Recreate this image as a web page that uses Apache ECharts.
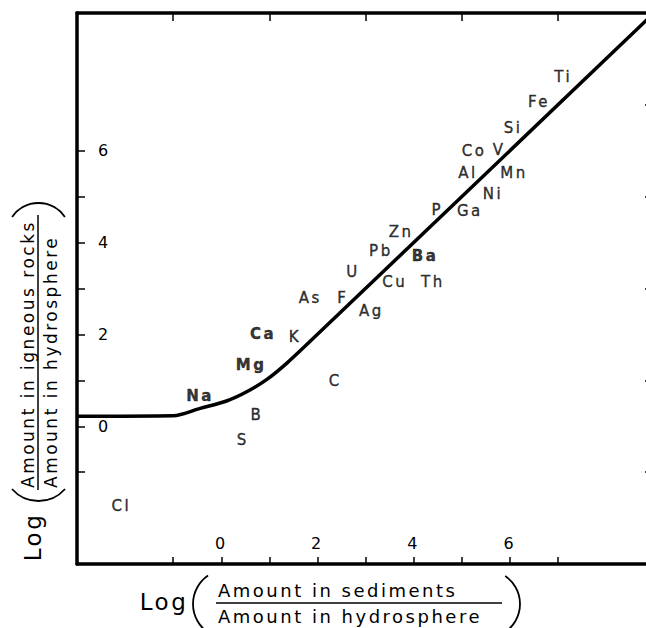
<!DOCTYPE html>
<html>
<head>
<meta charset="utf-8">
<script src="https://cdn.jsdelivr.net/npm/echarts@6/dist/echarts.min.js"></script>
<style>
  html, body { margin: 0; padding: 0; background: #fff; overflow: hidden; }
  #chart { width: 660px; height: 628px; letter-spacing: 2.5px; }
</style>
</head>
<body>
<div id="chart"></div>
<script>
// element symbols and where they sit on the plot (log ratios)
var elements = ['Ti', 'Fe', 'Si', 'Co', 'V', 'Al', 'Mn', 'Ni', 'P', 'Ga', 'Zn', 'Pb', 'Ba', 'U', 'Cu', 'Th',
                'As', 'F', 'Ag', 'Ca', 'K', 'Mg', 'C', 'Na', 'B', 'S', 'Cl'];
var sedimentLog = [7.11, 6.61, 6.07, 5.26, 5.78, 5.13, 6.09, 5.65, 4.49, 5.17, 3.74, 3.32, 4.24, 2.74, 3.61, 4.40,
                   1.85, 2.53, 3.12, 0.87, 1.53, 0.62, 2.37, -0.44, 0.74, 0.45, -2.08];
var igneousLog = [7.61, 7.06, 6.49, 5.99, 6.02, 5.52, 5.52, 5.05, 4.71, 4.68, 4.23, 3.81, 3.71, 3.36, 3.14, 3.14,
                  2.79, 2.79, 2.51, 2.00, 1.94, 1.33, 0.98, 0.66, 0.25, -0.30, -1.74];
var boldOnes = ['Na', 'Mg', 'Ca', 'Ba'];

// the curve
var curveX = [-3, -1, -0.44, 0.11, 0.53, 0.95, 1.36, 1.8, 9];
var curveY = [0.22, 0.23, 0.39, 0.55, 0.75, 1.02, 1.37, 1.8, 9];

// ticks
var bottomTicks = [-1, 0, 1, 2, 3, 4, 5, 6, 7];
var leftTicks = [-1, 0, 1, 2, 3, 4, 5, 6];
var oddTicks = [-1, 1, 3, 5, 7];
var tickLabels = [0, 2, 4, 6];

var FONT = '"DejaVu Sans", sans-serif';
var myChart = echarts.init(document.getElementById('chart'), null, { renderer: 'svg' });

var labelData = elements.map(function (e, i) {
    return {
        name: e,
        value: [sedimentLog[i], igneousLog[i]],
        label: { fontWeight: boldOnes.indexOf(e) >= 0 ? 'bold' : 'normal' }
    };
});
var curveData = curveX.map(function (x, i) { return [x, curveY[i]]; });

function axisBase(pos) {
    return {
        type: 'value', position: pos, min: -3, max: 9, interval: 1,
        axisLine: { show: true, onZero: false, lineStyle: { color: '#000', width: 3.5 } },
        splitLine: { show: false }
    };
}

var xBottom = axisBase('bottom');
xBottom.axisTick = { show: true, inside: true, length: 7, customValues: bottomTicks, lineStyle: { color: '#000', width: 1.5 } };
xBottom.axisLabel = { show: true, inside: true, margin: 13, customValues: tickLabels, color: '#000', fontSize: 16, fontFamily: FONT };

var xTop = axisBase('top');
xTop.axisTick = { show: true, inside: true, length: 8, customValues: oddTicks, lineStyle: { color: '#000', width: 1.5 } };
xTop.axisLabel = { show: false };

var yLeft = axisBase('left');
yLeft.axisTick = { show: true, inside: true, length: 8, customValues: leftTicks, lineStyle: { color: '#000', width: 1.5 } };
yLeft.axisLabel = { show: true, inside: true, margin: 21, customValues: tickLabels, color: '#000', fontSize: 16, fontFamily: FONT };

var yRight = axisBase('right');
yRight.axisTick = { show: true, inside: true, length: 9, customValues: oddTicks, lineStyle: { color: '#000', width: 1.5 } };
yRight.axisLabel = { show: false };

function txt(x, y, text, size, align, rot) {
    return {
        type: 'text', x: x, y: y, rotation: rot || 0, silent: true,
        style: {
            text: text, fill: '#000', fontSize: size, fontFamily: FONT,
            align: align, verticalAlign: 'middle', textAlign: align, textVerticalAlign: 'middle'
        }
    };
}
function arc(cx, cy, r, a0, a1) {
    return {
        type: 'arc', silent: true,
        shape: { cx: cx, cy: cy, r: r, startAngle: a0, endAngle: a1, clockwise: true },
        style: { stroke: '#000', lineWidth: 1.8, fill: 'none' }
    };
}
function line(x1, y1, x2, y2) {
    return { type: 'line', silent: true, shape: { x1: x1, y1: y1, x2: x2, y2: y2 }, style: { stroke: '#000', lineWidth: 1.5 } };
}

option = {
    backgroundColor: '#fff',
    animation: false,
    grid: { left: 77, top: 13, right: 6, bottom: 64 },
    xAxis: [xBottom, xTop],
    yAxis: [yLeft, yRight],
    series: [
        {
            type: 'line', data: curveData, smooth: 0.3, showSymbol: false, symbol: 'none',
            lineStyle: { color: '#000', width: 3.5 }, silent: true
        },
        {
            type: 'scatter', data: labelData, symbolSize: 1, silent: true,
            itemStyle: { color: 'rgba(0,0,0,0)' },
            label: {
                show: true, position: 'inside', formatter: '{b}', color: '#000', fontSize: 15, fontFamily: FONT,
                textBorderColor: '#000', textBorderWidth: 0.4
            }
        }
    ],
    graphic: [
        // x title
        txt(164, 602, 'Log', 23, 'center'),
        arc(227.6, 604, 34.6, Math.PI - 0.97, Math.PI + 0.97),
        txt(218, 590, 'Amount in sediments', 18, 'left'),
        line(216, 603, 502, 603),
        txt(218, 616, 'Amount in hydrosphere', 18, 'left'),
        arc(486, 604, 34, -0.97, 0.97),
        // y title
        txt(33, 537, 'Log', 23, 'center', Math.PI / 2),
        arc(38.5, 465.7, 35.3, Math.PI / 2 - 0.85, Math.PI / 2 + 0.85),
        txt(28, 488, 'Amount in igneous rocks', 17, 'left', Math.PI / 2),
        line(38, 490, 38, 215),
        txt(51, 488, 'Amount in hydrosphere', 17, 'left', Math.PI / 2),
        arc(38.5, 235, 32, -Math.PI / 2 - 0.97, -Math.PI / 2 + 0.97)
    ]
};

myChart.setOption(option);
</script>
</body>
</html>
